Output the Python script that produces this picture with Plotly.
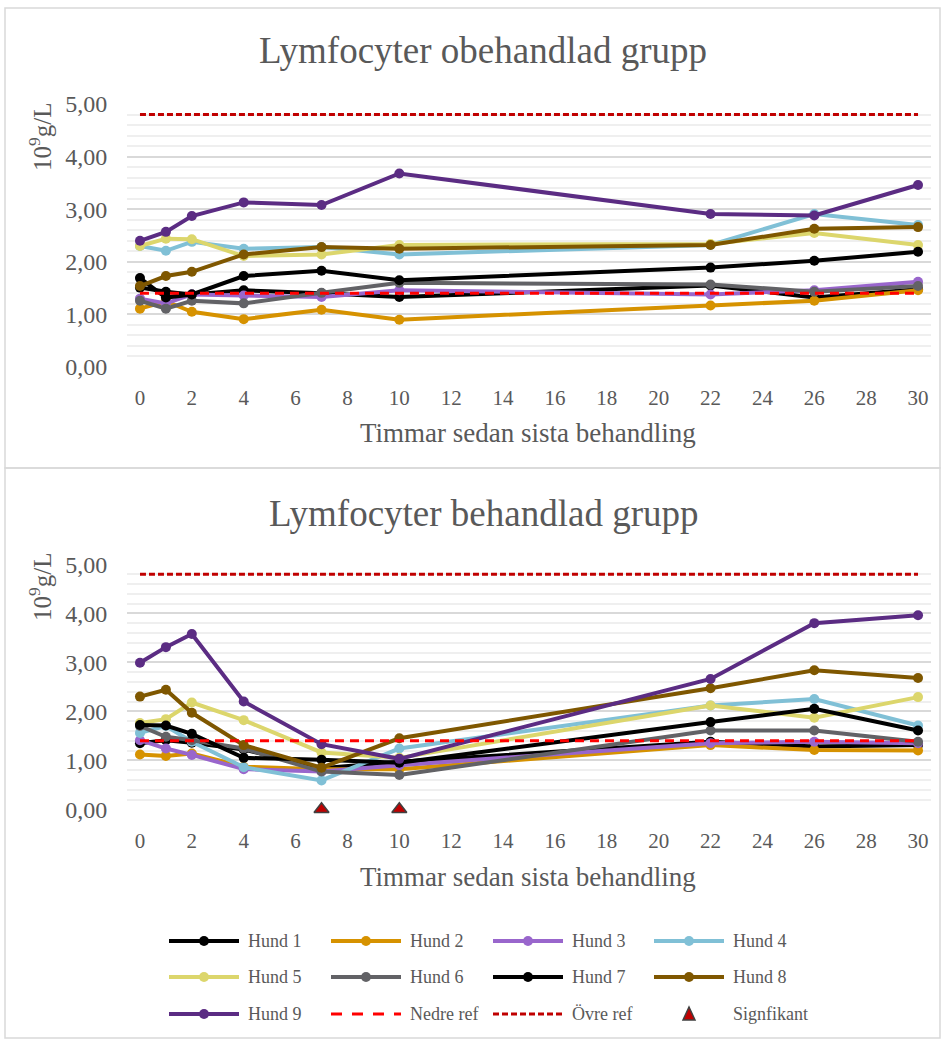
import plotly.graph_objects as go

# ---- data -------------------------------------------------------------
hours = [0, 1, 2, 4, 7, 10, 22, 26, 30]
names = ["Hund 1", "Hund 2", "Hund 3", "Hund 4", "Hund 5",
         "Hund 6", "Hund 7", "Hund 8", "Hund 9"]
colors = ["#000000", "#D69200", "#9966CC", "#80C0D6", "#DCD66C",
          "#626266", "#000000", "#7F5700", "#5B2C83"]

# untreated group (10^9 g/L)
obeh_h1 = [1.51, 1.43, 1.38, 1.46, 1.40, 1.33, 1.55, 1.32, 1.48]
obeh_h2 = [1.11, 1.25, 1.05, 0.91, 1.09, 0.90, 1.17, 1.26, 1.46]
obeh_h3 = [1.30, 1.21, 1.38, 1.36, 1.33, 1.46, 1.38, 1.46, 1.62]
obeh_h4 = [2.30, 2.21, 2.38, 2.25, 2.28, 2.14, 2.32, 2.91, 2.70]
obeh_h5 = [2.30, 2.44, 2.43, 2.11, 2.14, 2.32, 2.34, 2.55, 2.32]
obeh_h6 = [1.26, 1.11, 1.26, 1.21, 1.41, 1.60, 1.57, 1.43, 1.54]
obeh_h7 = [1.69, 1.32, 1.38, 1.73, 1.83, 1.65, 1.89, 2.02, 2.19]
obeh_h8 = [1.54, 1.73, 1.81, 2.14, 2.28, 2.25, 2.32, 2.63, 2.66]
obeh_h9 = [2.40, 2.57, 2.87, 3.13, 3.08, 3.68, 2.91, 2.88, 3.46]

# treated group (10^9 g/L)
beh_h1 = [1.35, 1.41, 1.36, 1.22, 0.84, 0.97, 1.38, 1.28, 1.31]
beh_h2 = [1.12, 1.09, 1.14, 0.87, 0.82, 0.82, 1.31, 1.21, 1.20]
beh_h3 = [1.41, 1.24, 1.11, 0.82, 0.77, 0.90, 1.35, 1.38, 1.35]
beh_h4 = [1.56, 1.70, 1.38, 0.86, 0.59, 1.24, 2.12, 2.25, 1.71]
beh_h5 = [1.76, 1.84, 2.18, 1.82, 1.16, 1.05, 2.12, 1.87, 2.29]
beh_h6 = [1.70, 1.48, 1.41, 1.24, 0.77, 0.70, 1.61, 1.61, 1.38]
beh_h7 = [1.72, 1.71, 1.54, 1.05, 1.01, 0.95, 1.78, 2.05, 1.61]
beh_h8 = [2.30, 2.44, 1.97, 1.31, 0.85, 1.45, 2.47, 2.84, 2.68]
beh_h9 = [2.99, 3.31, 3.58, 2.20, 1.33, 1.03, 2.66, 3.80, 3.96]

untreated = [obeh_h1, obeh_h2, obeh_h3, obeh_h4, obeh_h5,
             obeh_h6, obeh_h7, obeh_h8, obeh_h9]
treated = [beh_h1, beh_h2, beh_h3, beh_h4, beh_h5,
           beh_h6, beh_h7, beh_h8, beh_h9]

nedre_ref = 1.4
ovre_ref = 4.8
signif_hours = [7, 10]
signif_values = [0, 0]

ytick_vals = [0, 1, 2, 3, 4, 5]
xtick_vals = list(range(0, 31, 2))

# ---- styling ----------------------------------------------------------
W, H = 949, 1039
FONT = "Liberation Serif, Times New Roman, serif"
TXT = "#595959"
GRID = "#D9D9D9"
MINOR = "#EFEFEF"


def px(x):
    return x / W


def py(y):
    return 1 - y / H


fig = go.Figure()


def add_group(values, xa, ya):
    for name, col, vals in zip(names, colors, values):
        fig.add_trace(go.Scatter(
            x=hours, y=vals, name=name, mode="lines+markers",
            line=dict(color=col, width=4),
            marker=dict(color=col, size=10),
            xaxis=xa, yaxis=ya, showlegend=False))
    fig.add_trace(go.Scatter(
        x=[hours[0], hours[-1]], y=[nedre_ref, nedre_ref], name="Nedre ref",
        mode="lines", line=dict(color="#FF0000", width=3, dash="9px,6px"),
        xaxis=xa, yaxis=ya, showlegend=False))
    fig.add_trace(go.Scatter(
        x=[hours[0], hours[-1]], y=[ovre_ref, ovre_ref], name="Övre ref",
        mode="lines", line=dict(color="#C00000", width=3, dash="6px,3px"),
        xaxis=xa, yaxis=ya, showlegend=False))


add_group(untreated, "x", "y")
add_group(treated, "x2", "y2")

fig.add_trace(go.Scatter(
    x=signif_hours, y=signif_values, name="Signfikant", mode="markers",
    marker=dict(symbol="triangle-up", size=13, color="#C00000",
                line=dict(color="#404040", width=1.5)),
    xaxis="x2", yaxis="y2", cliponaxis=False, showlegend=False))

xcommon = dict(range=[-0.5, 30.5], tickvals=xtick_vals, showgrid=False,
               zeroline=False, showline=False, ticks="outside", ticklen=12,
               tickcolor="rgba(0,0,0,0)", automargin=False,
               tickfont=dict(family=FONT, size=21, color=TXT),
               domain=[px(127), px(931)])
ycommon = dict(range=[0, 5.001], tickvals=ytick_vals, tickformat=".2f",
               showgrid=True, gridcolor=GRID, gridwidth=1.5,
               zeroline=False, showline=False, ticks="outside", ticklen=14,
               tickcolor="rgba(0,0,0,0)", automargin=False,
               tickfont=dict(family=FONT, size=24, color=TXT),
               minor=dict(dtick=0.2, showgrid=True, gridcolor=MINOR,
                          gridwidth=1.5))

fig.update_layout(
    template="none",
    width=W, height=H, autosize=False,
    margin=dict(l=0, r=0, t=0, b=0, pad=0),
    paper_bgcolor="white", plot_bgcolor="white",
    separators=", ", showlegend=False,
    font=dict(family=FONT, color=TXT),
    xaxis=dict(xcommon, anchor="y"),
    yaxis=dict(ycommon, anchor="x", domain=[py(367), py(104)]),
    xaxis2=dict(xcommon, anchor="y2"),
    yaxis2=dict(ycommon, anchor="x2", domain=[py(809.3), py(564.3)]),
)

# chart frames
shapes = [
    dict(type="rect", xref="paper", yref="paper",
         x0=px(5), x1=px(940), y0=py(468), y1=py(8),
         line=dict(color=GRID, width=1.5)),
    dict(type="rect", xref="paper", yref="paper",
         x0=px(5), x1=px(940), y0=py(1038), y1=py(468),
         line=dict(color=GRID, width=1.5)),
]

annotations = []


def text(x, y, s, size, angle=0, anchor="center"):
    annotations.append(dict(
        x=px(x), y=py(y), xref="paper", yref="paper", text=s,
        showarrow=False, textangle=angle, xanchor=anchor, yanchor="middle",
        font=dict(family=FONT, size=size, color=TXT)))


text(483, 50, "Lymfocyter obehandlad grupp", 37)
text(483, 513, "Lymfocyter behandlad grupp", 37)
text(528, 433, "Timmar sedan sista behandling", 27)
text(528, 877, "Timmar sedan sista behandling", 27)
text(40, 137, "10<sup>9</sup>g/L", 25, angle=-90)
text(40, 587, "10<sup>9</sup>g/L", 25, angle=-90)

# legend, 4 columns x 3 rows
legend_names = names + ["Nedre ref", "Övre ref", "Signfikant"]
col_x = [169, 331, 493, 654]
row_y = [941, 977, 1014]
seg = 70
for i, lname in enumerate(legend_names):
    cx = col_x[i % 4]
    cy = row_y[i // 4]
    if i < len(names):
        col = colors[i]
        shapes.append(dict(type="line", xref="paper", yref="paper",
                           x0=px(cx), x1=px(cx + seg), y0=py(cy), y1=py(cy),
                           line=dict(color=col, width=4)))
        r = 5
        mx = cx + seg / 2
        shapes.append(dict(type="circle", xref="paper", yref="paper",
                           x0=px(mx - r), x1=px(mx + r),
                           y0=py(cy + r), y1=py(cy - r),
                           fillcolor=col, line=dict(color=col, width=0)))
    elif lname == "Nedre ref":
        shapes.append(dict(type="line", xref="paper", yref="paper",
                           x0=px(cx), x1=px(cx + seg), y0=py(cy), y1=py(cy),
                           line=dict(color="#FF0000", width=3,
                                     dash="11px,10px")))
    elif lname == "Övre ref":
        shapes.append(dict(type="line", xref="paper", yref="paper",
                           x0=px(cx), x1=px(cx + seg), y0=py(cy), y1=py(cy),
                           line=dict(color="#C00000", width=3,
                                     dash="6px,3px")))
    else:
        mx = cx + seg / 2
        path = "M {} {} L {} {} L {} {} Z".format(
            px(mx - 6), py(cy + 6), px(mx + 6), py(cy + 6), px(mx), py(cy - 7))
        shapes.append(dict(type="path", xref="paper", yref="paper",
                           path=path, fillcolor="#C00000",
                           line=dict(color="#404040", width=1.5)))
    text(cx + seg + 7, cy, lname, 18, anchor="left")

fig.update_layout(shapes=shapes, annotations=annotations)

fig.write_html("out.html")
